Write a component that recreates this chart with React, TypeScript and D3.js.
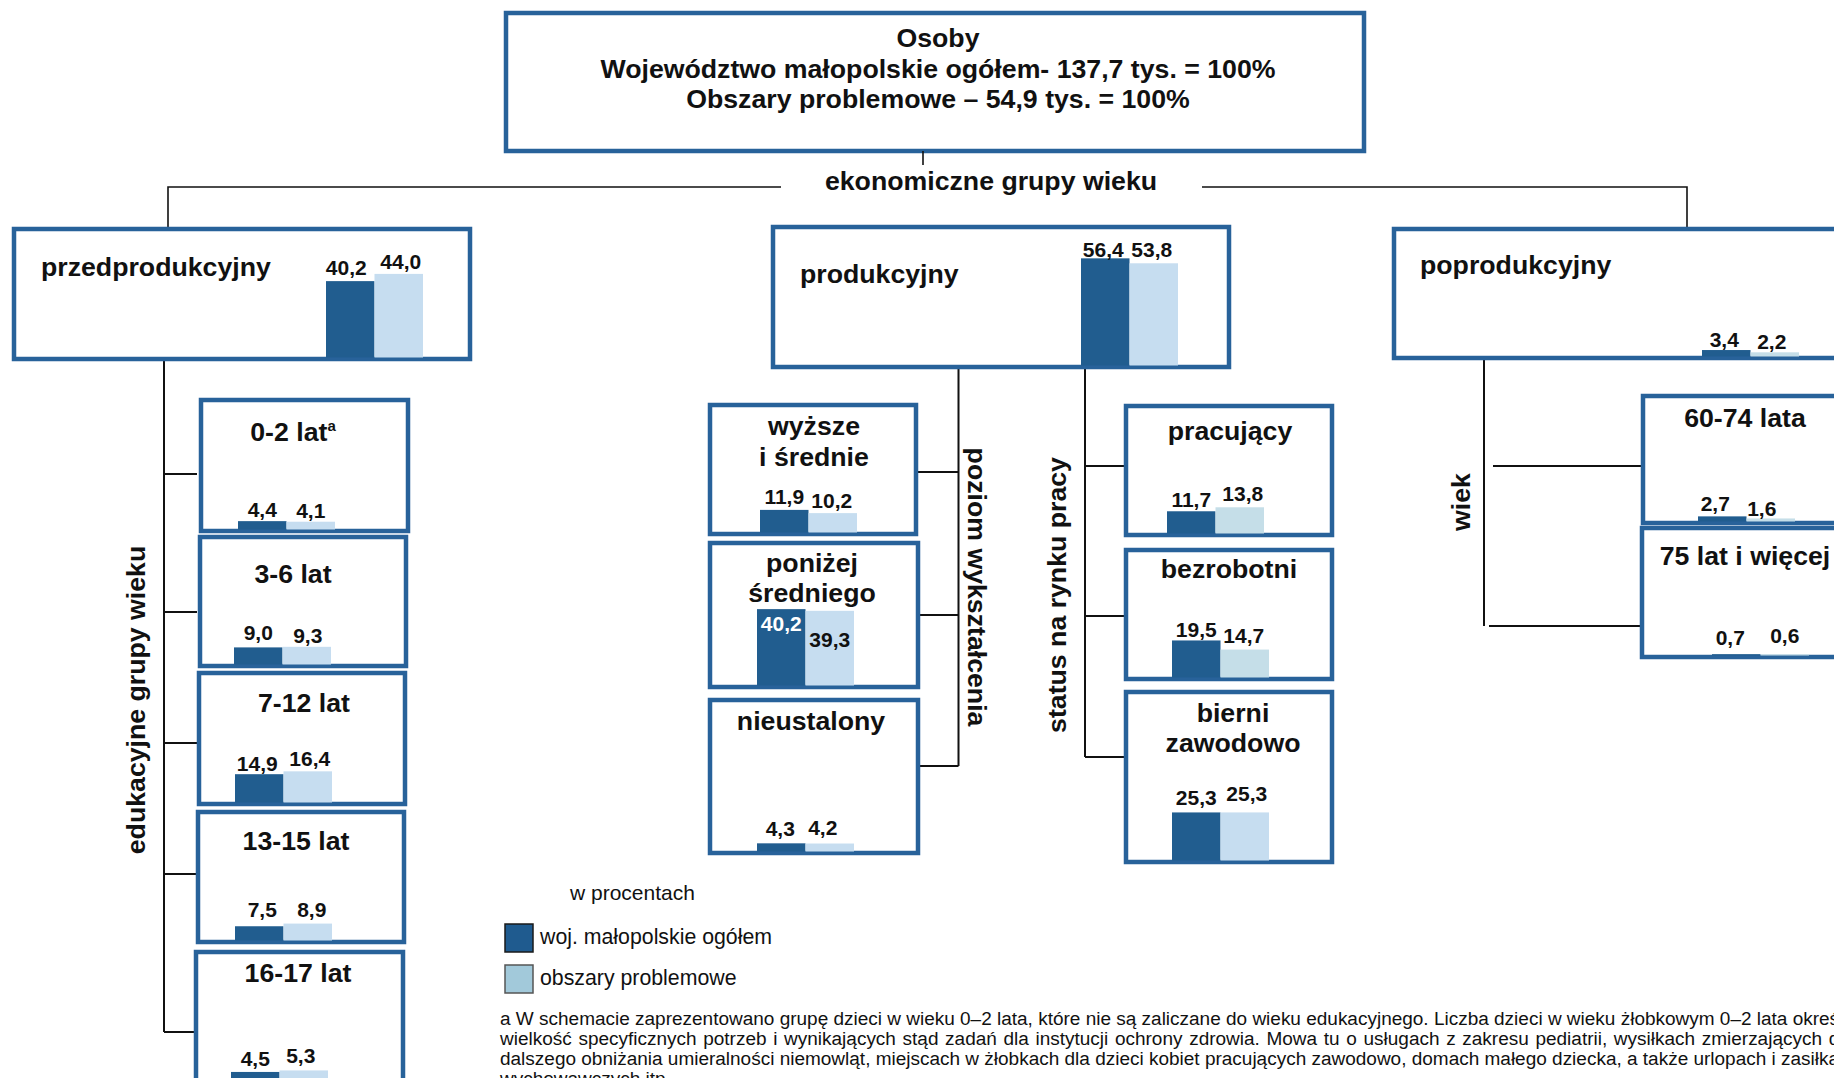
import React, { useEffect, useRef } from "react";
import * as d3 from "d3";

// ---------- DATA ----------
const categories = [
  "przedprodukcyjny",
  "produkcyjny",
  "poprodukcyjny",
  "0-2 lat",
  "3-6 lat",
  "7-12 lat",
  "13-15 lat",
  "16-17 lat",
  "wyższe\ni średnie",
  "poniżej\nśredniego",
  "nieustalony",
  "pracujący",
  "bezrobotni",
  "bierni\nzawodowo",
  "60-74 lata",
  "75 lat i więcej",
];
const wojValues = [40.2, 56.4, 3.4, 4.4, 9.0, 14.9, 7.5, 4.5, 11.9, 40.2, 4.3, 11.7, 19.5, 25.3, 2.7, 0.7];
const obszaryValues = [44.0, 53.8, 2.2, 4.1, 9.3, 16.4, 8.9, 5.3, 10.2, 39.3, 4.2, 13.8, 14.7, 25.3, 1.6, 0.6];
const seriesNames = ["woj. małopolskie ogółem", "obszary problemowe"];
const headerLines = [
  "Osoby",
  "Województwo małopolskie ogółem- 137,7 tys. = 100%",
  "Obszary problemowe – 54,9 tys. = 100%",
];
const rootLabel = "ekonomiczne grupy wieku";
const branchLabels = ["edukacyjne grupy wieku", "poziom wykształcenia", "status na rynku pracy", "wiek"];
const unitLabel = "w procentach";
const footnoteSup = "a";
const footLines = [
  "a W schemacie zaprezentowano grupę dzieci w wieku 0–2 lata, które nie są zaliczane do wieku edukacyjnego. Liczba dzieci w wieku żłobkowym 0–2 lata określa",
  "wielkość specyficznych potrzeb i wynikających stąd zadań dla instytucji ochrony zdrowia. Mowa tu o usługach z zakresu pediatrii, wysiłkach zmierzających do",
  "dalszego obniżania umieralności niemowląt, miejscach w żłobkach dla dzieci kobiet pracujących zawodowo, domach małego dziecka, a także urlopach i zasiłkach",
  "wychowawczych itp.",
];

// ---------- LAYOUT ----------
const boxLayout = [
  { x: 14, y: 229, w: 456, h: 130, tx: 41, ty: [276], anchor: "start", bx: 326 },
  { x: 773, y: 227, w: 456, h: 140, tx: 800, ty: [283], anchor: "start", bx: 1081 },
  { x: 1394, y: 229, w: 456, h: 129, tx: 1420, ty: [274], anchor: "start", bx: 1702 },
  { x: 201, y: 400, w: 207, h: 131, tx: 293, ty: [441], anchor: "middle", bx: 238 },
  { x: 200, y: 537, w: 206, h: 129, tx: 293, ty: [583], anchor: "middle", bx: 234 },
  { x: 199, y: 673, w: 206, h: 131, tx: 304, ty: [712], anchor: "middle", bx: 235 },
  { x: 198, y: 812, w: 206, h: 130, tx: 296, ty: [850], anchor: "middle", bx: 235 },
  { x: 196, y: 952, w: 207, h: 130, tx: 298, ty: [982], anchor: "middle", bx: 231 },
  { x: 710, y: 405, w: 206, h: 129, tx: 814, ty: [435, 466], anchor: "middle", bx: 760 },
  { x: 710, y: 543, w: 208, h: 144, tx: 812, ty: [572, 602], anchor: "middle", bx: 757 },
  { x: 710, y: 700, w: 208, h: 153, tx: 811, ty: [730], anchor: "middle", bx: 757 },
  { x: 1126, y: 406, w: 206, h: 129, tx: 1230, ty: [440], anchor: "middle", bx: 1167 },
  { x: 1126, y: 550, w: 206, h: 129, tx: 1229, ty: [578], anchor: "middle", bx: 1172 },
  { x: 1126, y: 692, w: 206, h: 170, tx: 1233, ty: [722, 752], anchor: "middle", bx: 1172 },
  { x: 1643, y: 396, w: 206, h: 127, tx: 1745, ty: [427], anchor: "middle", bx: 1698 },
  { x: 1642, y: 528, w: 206, h: 129, tx: 1745, ty: [565], anchor: "middle", bx: 1712 },
];
// label offsets: [dx dark, gap dark, dx light, gap light]
const labelOffsets = [
  [-4, 6, 2, 5], [-2, 1, -2, 6], [-2, 3.5, -3, 3], [0, 4.6, 0, 4],
  [0, 7, 1, 4], [-2, 3, 2, 5], [3, 9, 4, 7], [0, 6, -3, 7.5],
  [0, 6, -1, 5.6], [0, -22, 0, -36], [-1, 7, -7, 9], [0, 4, 3, 6],
  [0, 3, -1, 7], [0, 7, 2, 11], [-7, 5, -9, 2], [-6, 9, 0, 11],
];
const tealLight = [2, 11, 12, 14, 15];

const BORDER = "#28629a";
const DARK = "#215d8f";
const LIGHT = "#c6ddf0";
const LIGHT2 = "#c5dee8";
const FONT = "'Liberation Sans', Arial, Helvetica, sans-serif";
const BIG = 26.7;

const heightScale = d3.scaleLinear().domain([0, 100]).range([0, 190]);

function BoxChart({ i }: { i: number }) {
  const b = boxLayout[i];
  const band = d3.scaleBand<string>().domain(["woj", "obs"]).range([b.bx, b.bx + 97]).padding(0);
  const bottom = b.y + b.h - 1.5;
  const vals = [wojValues[i], obszaryValues[i]];
  const keys = ["woj", "obs"];
  const lo = labelOffsets[i];
  const lines = categories[i].split("\n");
  return (
    <g>
      <rect x={b.x} y={b.y} width={b.w} height={b.h} fill="#fff" stroke={BORDER} strokeWidth={4.5} />
      {lines.map((ln, k) => (
        <text key={k} x={b.tx} y={b.ty[k]} textAnchor={b.anchor} fontSize={BIG} fontWeight="bold" fill="#111">
          {ln}
          {i === 3 ? (
            <tspan fontSize={15} dy={-10}>{footnoteSup}</tspan>
          ) : null}
        </text>
      ))}
      {vals.map((v, k) => {
        const hgt = heightScale(v);
        const x = band(keys[k])!;
        return (
          <rect key={"b" + k} x={x} y={bottom - hgt} width={band.bandwidth()} height={hgt}
            fill={k === 0 ? DARK : tealLight.includes(i) ? LIGHT2 : LIGHT} />
        );
      })}
      {vals.map((v, k) => {
        const hgt = heightScale(v);
        const cx = band(keys[k])! + band.bandwidth() / 2 + lo[k * 2];
        const y = bottom - hgt - lo[k * 2 + 1];
        return (
          <text key={"l" + k} x={cx} y={y} textAnchor="middle" fontSize={21} fontWeight="bold"
            fill={i === 9 && k === 0 ? "#fff" : "#111"}>
            {d3.format(".1f")(v).replace(".", ",")}
          </text>
        );
      })}
    </g>
  );
}

// footnote fit targets: number of words and x where that word ends
const footTargets = [
  { words: 24, end: 1788 },
  { words: 20, end: 1822 },
  { words: 18, end: 1760 },
  null,
];
const FOOT_X = 500;

export default function App() {
  const footRef = useRef<SVGGElement>(null);
  useEffect(() => {
    if (!footRef.current) return;
    const g = d3.select(footRef.current);
    const measure = (s: string, fs: number) => {
      const probe = g.append("text").attr("font-size", fs).attr("font-family", FONT).text(s);
      const w = (probe.node() as SVGTextElement).getComputedTextLength();
      probe.remove();
      return w;
    };
    const first = footLines[0].split(" ").slice(0, footTargets[0]!.words).join(" ");
    const fs = 17 * (footTargets[0]!.end - FOOT_X) / measure(first, 17);
    g.selectAll<SVGTextElement, unknown>("text.foot").each(function (_d, idx) {
      d3.select(this).attr("font-size", fs);
      const t = footTargets[idx];
      if (!t || idx === 0) return;
      const words = footLines[idx].split(" ").slice(0, t.words).join(" ");
      const w = measure(words, fs);
      const ws = (t.end - FOOT_X - w) / (t.words - 1);
      d3.select(this).attr("word-spacing", Math.max(0, ws));
    });
  }, []);

  const L = { stroke: "#111", strokeWidth: 2, fill: "none" };
  return (
    <svg width={1834} height={1078} style={{ position: "fixed", left: 0, top: 0, background: "#fff" }}
      fontFamily={FONT}>
      <rect x={0} y={0} width={1834} height={1078} fill="#fff" />
      {/* header */}
      <rect x={506} y={13} width={858} height={138} fill="#fff" stroke={BORDER} strokeWidth={4.5} />
      {headerLines.map((t, k) => (
        <text key={k} x={938} y={[47, 77.5, 108][k]} textAnchor="middle" fontSize={BIG} fontWeight="bold" fill="#111">
          {t}
        </text>
      ))}
      {/* top connectors */}
      <line x1={923} y1={151} x2={923} y2={165} {...L} strokeWidth={1.6} />
      <text x={991} y={190} textAnchor="middle" fontSize={BIG} fontWeight="bold" fill="#111">{rootLabel}</text>
      <path d="M781,187 H168 V229" {...L} strokeWidth={1.6} />
      <path d="M1202,187 H1687 V229" {...L} strokeWidth={1.6} />
      {/* left column */}
      <line x1={164} y1={359} x2={164} y2={1032} {...L} />
      {[474, 612, 743, 874, 1032].map((y) => (
        <line key={y} x1={164} y1={y} x2={197} y2={y} {...L} />
      ))}
      {/* middle education */}
      <line x1={958.5} y1={367} x2={958.5} y2={766} {...L} />
      {[472, 615, 766].map((y) => (
        <line key={y} x1={918} y1={y} x2={958.5} y2={y} {...L} />
      ))}
      {/* middle status */}
      <line x1={1085} y1={367} x2={1085} y2={757} {...L} />
      {[466, 616, 757].map((y) => (
        <line key={y} x1={1085} y1={y} x2={1126} y2={y} {...L} />
      ))}
      {/* right */}
      <line x1={1484} y1={358} x2={1484} y2={626} {...L} />
      <line x1={1493} y1={466} x2={1649} y2={466} {...L} />
      <line x1={1489} y1={626} x2={1642} y2={626} {...L} />

      {boxLayout.map((_b, i) => (
        <BoxChart key={i} i={i} />
      ))}

      {/* rotated branch labels */}
      <text transform="translate(145,700) rotate(-90)" textAnchor="middle" fontSize={BIG} fontWeight="bold" fill="#111">
        {branchLabels[0]}
      </text>
      <text transform="translate(968,587) rotate(90)" textAnchor="middle" fontSize={BIG} fontWeight="bold" fill="#111">
        {branchLabels[1]}
      </text>
      <text transform="translate(1066,595) rotate(-90)" textAnchor="middle" fontSize={BIG} fontWeight="bold" fill="#111">
        {branchLabels[2]}
      </text>
      <text transform="translate(1470,502) rotate(-90)" textAnchor="middle" fontSize={BIG} fontWeight="bold" fill="#111">
        {branchLabels[3]}
      </text>

      {/* legend */}
      <text x={570} y={900} fontSize={21} fill="#111">{unitLabel}</text>
      <rect x={505} y={924} width={28} height={28} fill="#1f5b8f" stroke="#1a1a1a" strokeWidth={1.5} />
      <rect x={505} y={965} width={28} height={28} fill="#a2c9da" stroke="#555" strokeWidth={1.5} />
      <text x={540} y={944} fontSize={21.3} fill="#111">{seriesNames[0]}</text>
      <text x={540} y={985} fontSize={21.3} fill="#111">{seriesNames[1]}</text>

      {/* footnote */}
      <g ref={footRef}>
        {footLines.map((t, k) => (
          <text key={k} className="foot" x={FOOT_X} y={1025 + k * 20} fontSize={17} fill="#111">
            {t}
          </text>
        ))}
      </g>
    </svg>
  );
}
